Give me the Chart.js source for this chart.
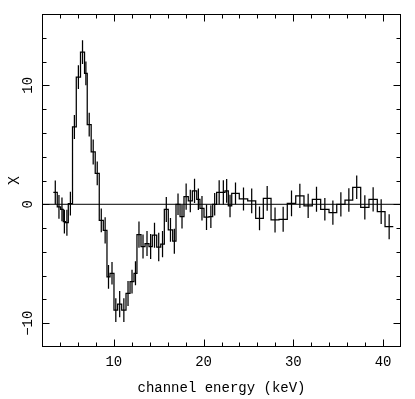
<!DOCTYPE html>
<html>
<head>
<meta charset="utf-8">
<style>
  html, body { margin: 0; padding: 0; background: #fff; }
  #wrap { width: 415px; height: 399px; }
</style>
<script src="https://cdn.jsdelivr.net/npm/chart.js@4.4.1/dist/chart.umd.min.js"></script>
</head>
<body>
<div id="wrap"><canvas id="c" width="415" height="399"></canvas></div>
<script>
// ---- data ----
const binLo = [3.26,3.70,4.08,4.37,4.62,4.93,5.40,5.82,6.29,6.74,7.04,7.48,7.93,
  8.38,8.83,9.24,9.58,10.02,10.43,10.88,11.36,11.81,12.25,12.58,13.03,13.48,13.92,
  14.29,14.78,15.23,15.63,16.07,16.56,16.93,
  17.38,17.82,18.30,18.75,19.24,19.60,20.05,20.61,21.02,21.46,22.02,22.39,22.76,
  23.14,23.98,24.92,25.81,26.66,27.52,28.41,29.33,30.27,31.19,32.12,33.05,33.98,
  34.84,35.76,36.62,37.51,38.43,39.36,40.22];
const binHi = [3.70,4.08,4.37,4.62,4.93,5.40,5.82,6.29,6.74,7.04,7.48,7.93,8.38,
  8.83,9.24,9.58,10.02,10.43,10.88,11.36,11.81,12.25,12.58,13.03,13.48,13.92,14.29,
  14.78,15.23,15.63,16.07,16.56,16.93,17.38,
  17.82,18.30,18.75,19.24,19.60,20.05,20.61,21.02,21.46,22.02,22.39,22.76,23.14,
  23.98,24.92,25.81,26.66,27.52,28.41,29.33,30.27,31.19,32.12,33.05,33.98,34.84,
  35.76,36.62,37.51,38.43,39.36,40.22,41.14];
const chiValues = [1.0,-0.22,-0.42,-1.45,-1.55,0.05,6.5,10.7,12.8,11.0,6.7,4.4,2.6,
  -1.35,-2.2,-6.1,-5.8,-8.9,-8.4,-8.9,-7.5,-6.5,-5.8,-2.55,-3.55,-3.3,-3.55,
  -2.6,-3.6,-3.35,-0.43,-2.15,-3.1,0.0,
  -1.04,0.65,0.28,1.12,0.42,-0.34,-1.09,-1.04,0.0,1.0,1.0,1.12,-0.14,
  0.92,0.45,0.28,-1.18,0.5,-1.32,-1.26,0.08,0.7,-0.14,0.42,-0.42,-0.7,
  0.0,0.36,1.43,-0.25,0.42,-0.62,-1.88];
const chiErrors = [1.0,1.0,1.0,1.0,1.1,1.0,1.0,1.0,1.0,1.0,1.0,1.05,1.0,
  1.0,1.1,1.0,0.95,1.0,1.1,1.0,1.05,1.0,1.0,1.1,1.0,1.05,1.05,
  1.05,1.2,1.1,1.05,1.0,1.05,0.9,
  1.0,1.1,0.95,1.02,0.9,1.03,1.08,0.95,0.95,1.02,1.02,1.0,0.95,
  0.92,0.97,1.04,1.0,1.04,1.05,1.05,1.08,1.02,1.02,1.05,0.95,1.02,
  1.02,0.98,0.98,1.02,1.02,1.04,1.05];

const xMajorTicks = [10, 20, 30, 40];
const xMinorTicks = [4, 6, 8, 12, 14, 16, 18, 22, 24, 26, 28, 32, 34, 36, 38];
const yMajorTicks = [-10, 0, 10];
const yMajorLabels = ['\u221210', '0', '10'];
const yMinorTicks = [-8, -6, -4, -2, 2, 4, 6, 8, 12, 14];
const xRange = [2, 42];
const yRange = [-12, 16];
const xTitle = 'channel energy (keV)';
const yTitle = '\u03c7';

// ---- build datasets from the arrays ----
const stepPts = [];
binLo.forEach((lo, i) => {
  stepPts.push({x: lo, y: chiValues[i]});
  stepPts.push({x: binHi[i], y: chiValues[i]});
});
const errPts = [];
binLo.forEach((lo, i) => {
  const c = (lo + binHi[i]) / 2;
  errPts.push({x: c, y: chiValues[i] - chiErrors[i]});
  errPts.push({x: c, y: chiValues[i] + chiErrors[i]});
  errPts.push({x: c, y: null});
});
const zeroPts = [{x: xRange[0], y: 0}, {x: xRange[1], y: 0}];

const FONT = 'Liberation Mono';

const framePlugin = {
  id: 'frame',
  afterDraw(chart) {
    const {ctx, chartArea: a, scales: {x, y}} = chart;
    ctx.save();
    ctx.strokeStyle = '#000';
    ctx.lineWidth = 1;
    const L = Math.round(a.left) + 0.5, R = Math.round(a.right) - 0.5;
    const T = Math.round(a.top) + 0.5, B = Math.round(a.bottom) - 0.5;
    ctx.strokeRect(L, T, R - L, B - T);
    ctx.beginPath();
    const xt = (v, len) => {
      const p = Math.round(x.getPixelForValue(v)) + 0.5;
      ctx.moveTo(p, B); ctx.lineTo(p, B - len);
      ctx.moveTo(p, T); ctx.lineTo(p, T + len);
    };
    const yt = (v, len) => {
      const p = Math.round(y.getPixelForValue(v)) + 0.5;
      ctx.moveTo(L, p); ctx.lineTo(L + len, p);
      ctx.moveTo(R, p); ctx.lineTo(R - len, p);
    };
    xMajorTicks.forEach(v => xt(v, 7));
    xMinorTicks.forEach(v => xt(v, 4));
    yMajorTicks.forEach(v => yt(v, 7));
    yMinorTicks.forEach(v => yt(v, 4));
    ctx.stroke();
    // rotated y tick labels
    ctx.fillStyle = '#000';
    ctx.font = '14px "' + FONT + '"';
    ctx.textAlign = 'center';
    ctx.textBaseline = 'middle';
    yMajorTicks.forEach((v, i) => {
      ctx.save();
      ctx.translate(28, y.getPixelForValue(v));
      ctx.rotate(-Math.PI / 2);
      ctx.fillText(yMajorLabels[i], 0, 0);
      ctx.restore();
    });
    ctx.restore();
  }
};

new Chart(document.getElementById('c'), {
  type: 'scatter',
  data: {
    datasets: [
      {data: stepPts, showLine: true, borderColor: '#000', borderWidth: 1.25,
       pointRadius: 0, tension: 0, fill: false},
      {data: errPts, showLine: true, spanGaps: false, borderColor: '#000', borderWidth: 1.25,
       pointRadius: 0, tension: 0, fill: false},
      {data: zeroPts, showLine: true, borderColor: '#000', borderWidth: 1,
       pointRadius: 0, tension: 0, fill: false}
    ]
  },
  options: {
    responsive: false,
    animation: false,
    devicePixelRatio: 1,
    layout: {padding: {top: 14, right: 14, left: 0, bottom: 0}},
    plugins: {legend: {display: false}, tooltip: {enabled: false}},
    scales: {
      x: {
        type: 'linear', min: xRange[0], max: xRange[1],
        grid: {display: false, drawTicks: false},
        border: {display: false},
        afterBuildTicks: s => { s.ticks = xMajorTicks.map(v => ({value: v})); },
        afterFit: s => { s.height = 52; },
        ticks: {padding: 7, color: '#000', font: {family: FONT, size: 14},
                maxRotation: 0, autoSkip: false},
        title: {display: true, text: xTitle, color: '#000',
                font: {family: FONT, size: 14}, padding: {top: 0, bottom: 2}}
      },
      y: {
        type: 'linear', min: yRange[0], max: yRange[1],
        grid: {display: false, drawTicks: false},
        border: {display: false},
        afterBuildTicks: s => { s.ticks = yMajorTicks.map(v => ({value: v})); },
        afterFit: s => { s.width = 42; },
        ticks: {display: false},
        title: {display: true, text: yTitle, color: '#000',
                font: {family: FONT, size: 15}, padding: {top: 3, bottom: 0}}
      }
    }
  },
  plugins: [framePlugin]
});
</script>
</body>
</html>
